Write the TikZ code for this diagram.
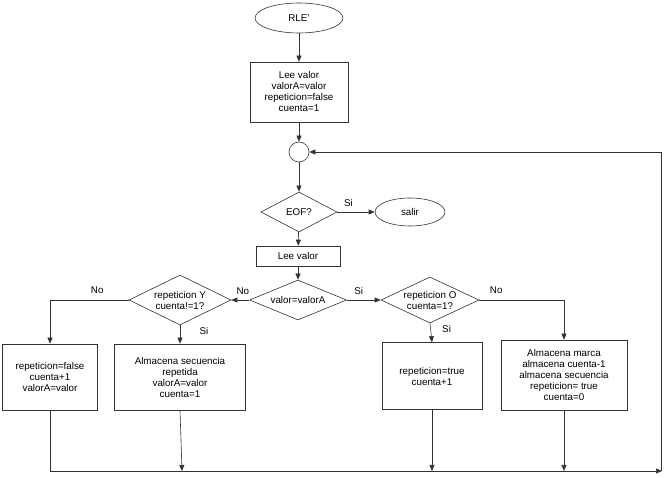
\documentclass[tikz,border=0pt]{standalone}
\usepackage{fontspec}
\setmainfont{Liberation Sans}
\usetikzlibrary{shapes.geometric,arrows.meta}
\begin{document}
\begin{tikzpicture}[x=1pt,y=-1pt,
  every node/.style={font=\fontsize{9.8}{11}\selectfont},
  ln/.style={draw=black!80,line width=0.6pt},
  box/.style={ln,rectangle,align=center,inner sep=0pt},
  dia/.style={ln,diamond,aspect=2,align=center,inner sep=0pt},
  ell/.style={ln,ellipse,inner sep=0pt},
  arr/.style={ln,-{Triangle[length=6pt,width=5pt]}}]
\useasboundingbox (0,0) rectangle (665,478);
\node[ell,minimum width=88,minimum height=30] (rle) at (299,18) {RLE'};
\node[box,minimum width=98,minimum height=60] (b1) at (299,92) {Lee valor\\valorA=valor\\repeticion=false\\cuenta=1};
\node[ln,circle,minimum size=20,inner sep=0pt] (c) at (299,152) {};
\node[dia,minimum width=76,minimum height=40] (eof) at (299,212) {EOF?};
\node[ell,minimum width=70,minimum height=28] (salir) at (410,212) {salir};
\node[box,minimum width=84,minimum height=20] (b2) at (298,256) {Lee valor};
\node[dia,minimum width=97,minimum height=40] (d1) at (298,300) {valor=valorA};
\node[dia,minimum width=102,minimum height=50] (dL) at (180,300) {repeticion Y\\cuenta!=1?};
\node[dia,minimum width=98,minimum height=46] (dR) at (430,300) {repeticion O\\cuenta=1?};
\node[box,minimum width=95,minimum height=66] (bA) at (50,377) {repeticion=false\\cuenta+1\\valorA=valor};
\node[box,minimum width=131,minimum height=66] (bB) at (180,377) {Almacena secuencia\\repetida\\valorA=valor\\cuenta=1};
\node[box,minimum width=100,minimum height=67] (bC) at (432,376) {repeticion=true\\cuenta+1};
\node[box,minimum width=126,minimum height=70] (bD) at (564,375) {Almacena marca\\almacena cuenta-1\\almacena secuencia\\repeticion= true\\cuenta=0};
\coordinate (bl) at (50,471);
\coordinate (br) at (662,471);
\coordinate (tr) at (661,152);
\draw[arr] (rle) -- (b1);
\draw[arr] (b1) -- (c);
\draw[arr] (c) -- (eof);
\draw[arr] (eof) -- node[above,pos=0.3,yshift=2pt]{Si} (salir);
\draw[arr] (eof) -- (b2);
\draw[arr] (b2) -- (d1);
\draw[arr] (d1) -- node[above,pos=0.35,yshift=2pt]{No} (dL);
\draw[arr] (d1) -- node[above,pos=0.35,yshift=2pt]{Si} (dR);
\draw[arr] (dL.west) -- node[above,pos=0.4,yshift=3pt]{No} (50,300) -- (bA.north);
\draw[arr] (dL.south) -- node[right,pos=0.3,xshift=16pt]{Si} (bB.north);
\draw[arr] (dR.south) -- node[right,pos=0.3,xshift=8pt]{Si} (bC.north);
\draw[arr] (dR.east) -- node[above,pos=0.2,yshift=3pt]{No} (564,300) -- (bD.north);
\draw[arr] (bA.south) -- (bl) -- (br);
\draw[arr] (bB.south) -- (182,471);
\draw[arr] (bC.south) -- (432,471);
\draw[arr] (bD.south) -- (564,471);
\draw[arr] (tr|-br) -- (tr) -- (c);
\end{tikzpicture}
\end{document}
